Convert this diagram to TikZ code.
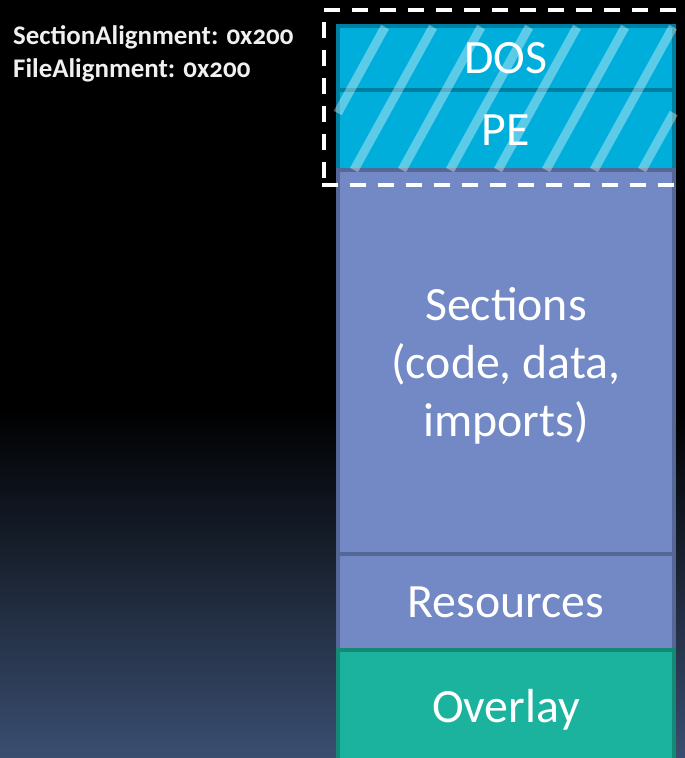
\documentclass[tikz,border=0pt]{standalone}
\usepackage{fontspec}
\setmainfont{Carlito}[Numbers=OldStyle]
\begin{document}
\begin{tikzpicture}[x=1bp,y=-1bp,
  seg/.style={inner sep=0pt, outer sep=0pt, line width=4bp, minimum width=336bp,
    text=white, font=\fontsize{48}{58}\selectfont, align=center},
  hdr/.style={seg, fill=hdrfill, draw=hdrline},
  sec/.style={seg, fill=secfill, draw=secline},
  ovl/.style={seg, fill=ovlfill, draw=ovlline},
  stripe/.style={white, opacity=0.36, line width=9bp, line cap=butt},
  lbl/.style={inner sep=0pt, text=white!94!black, font=\fontsize{27}{32}\selectfont\bfseries},
  framebox/.style={white, line width=3.5bp, dash pattern=on 16bp off 12bp}]
\definecolor{hdrfill}{RGB}{0,174,219}
\definecolor{hdrline}{RGB}{0,126,160}
\definecolor{secfill}{RGB}{114,137,198}
\definecolor{secline}{RGB}{84,103,150}
\definecolor{ovlfill}{RGB}{27,179,158}
\definecolor{ovlline}{RGB}{20,138,118}
\definecolor{bgb}{RGB}{58,78,112}
\useasboundingbox (0,0) rectangle (685,758);
\clip (0,0) rectangle (685,758);
% background
\fill[black] (0,0) rectangle (685,411);
\shade[top color=black, bottom color=bgb] (0,410) rectangle (685,758);
% segments
\node[hdr, minimum height=64bp] (dos) at (506,58) {DOS};
\node[hdr, minimum height=80bp] (pe) at (506,130) {PE};
\node[sec, minimum height=384bp] (sections) at (506,362) {};
\node[font=\fontsize{48}{58}\selectfont, text=white, align=center] (sectxt) at (506,366) {Sections\\(code, data,\\imports)};
\node[sec, minimum height=96bp] (res) at (506,602) {Resources};
\node[ovl, minimum height=120bp] (ovl) at (506,710) {Overlay};
% hatching
\draw[stripe] (385,27) -- (337.7,113);
\foreach \t in {433,481,529,577,625,673} {
  \draw[stripe] (\t,27) -- ({\t-79},170);
}
\draw[stripe] (673.7,113) -- (642,170);
% dashed frame
\draw[framebox] (324,10) -- (700,10);
\draw[framebox] (324,22) -- (324,185);
\draw[framebox] (322,185) -- (700,185);
% labels
\node[lbl, anchor=base west] (salign) at (13,45) {SectionAlignment: 0x200};
\node[lbl, anchor=base west] (falign) at (13,77) {FileAlignment: 0x200};
\end{tikzpicture}
\end{document}
